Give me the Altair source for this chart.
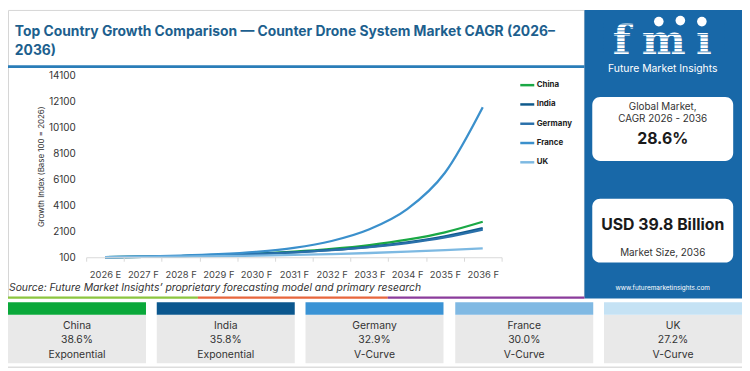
import altair as alt
import pandas as pd

# ---------------- data ----------------
years = ["2026 E", "2027 F", "2028 F", "2029 F", "2030 F", "2031 F",
         "2032 F", "2033 F", "2034 F", "2035 F", "2036 F"]
countries = ["China", "India", "Germany", "France", "UK"]
china = [100, 140, 195, 272, 380, 531, 742, 1036, 1448, 2022, 2833]
india = [100, 137, 188, 257, 352, 483, 661, 906, 1241, 1700, 2334]
germany = [100, 136, 185, 252, 344, 470, 641, 875, 1194, 1630, 2225]
france = [100, 160, 230, 340, 520, 820, 1350, 2250, 3800, 6600, 11640]
uk = [100, 123, 151, 186, 229, 282, 347, 427, 525, 646, 792]
line_colors = ["#1aa845", "#0f5a8c", "#2a70aa", "#3b90cc", "#7db9e2"]
y_ticks = [100, 2100, 4100, 6100, 8100, 10100, 12100, 14100]

card_names = ["China", "India", "Germany", "France", "UK"]
card_cagr = ["38.6%", "35.8%", "32.9%", "30.0%", "27.2%"]
card_type = ["Exponential", "Exponential", "V-Curve", "V-Curve", "V-Curve"]
card_colors = ["#0aa83a", "#0b578e", "#3a93d5", "#80b9e3", "#c5e2f4"]

title_l1 = "Top Country Growth Comparison \u2014 Counter Drone System Market CAGR (2026\u2013"
title_l2 = "2036)"
source_text = "Source: Future Market Insights\u2019 proprietary forecasting model and primary research"

series = {"China": china, "India": india, "Germany": germany, "France": france, "UK": uk}
rows = []
for c in countries:
    for yr, v in zip(years, series[c]):
        rows.append({"year": yr, "value": v, "country": c})
df = pd.DataFrame(rows)

# ---------------- layout helpers ----------------
FONT = "Inter"
SX, SY = 742 / 750, 363 / 371
PL, PT = 79, 66
W, H = 420, 184
PR = 742 - PL - W
PB = 363 - PT - H
ONE = pd.DataFrame({"k": [0]})
PANEL = "#1868a8"


def px(x):
    return x * SX - PL


def py(y):
    return y * SY - PT


def box(x0, y0, x1, y1, color, r=0):
    return alt.Chart(ONE).mark_rect(color=color, cornerRadius=r).encode(
        x=alt.value(px(x0)), x2=alt.value(px(x1)),
        y=alt.value(py(y0)), y2=alt.value(py(y1)))


def frame(x0, y0, x1, y1, color):
    return alt.Chart(ONE).mark_rect(fillOpacity=0, stroke=color, strokeWidth=1).encode(
        x=alt.value(px(x0)), x2=alt.value(px(x1)),
        y=alt.value(py(y0)), y2=alt.value(py(y1)))


def txt(s, x, y, size, color="#333333", weight="normal", align="center",
        font=FONT, style="normal", baseline="middle"):
    return alt.Chart(ONE).mark_text(
        text=s, align=align, baseline=baseline, font=font, fontSize=size,
        fontWeight=weight, fontStyle=style, color=color).encode(
        x=alt.value(px(x)), y=alt.value(py(y)))


layers = []
# backgrounds
layers.append(box(0, 0, 750, 371, "#ffffff"))
layers.append(frame(0.5, 0.5, 589, 297, "#d6d6d6"))
layers.append(box(0, 57, 589, 60, "#2a7db8"))
# right panel
layers.append(box(589, 0, 750, 298, PANEL))
# source strip
layers.append(box(0, 296, 194, 298.5, "#8cc63f"))
layers.append(box(194, 296, 388, 298.5, "#e8663d"))
layers.append(box(388, 296, 589, 298.5, "#8b3c9c"))

# title
layers.append(txt(title_l1, 7, 27, 14, "#1d5f8e", "bold", "left", baseline="alphabetic"))
layers.append(txt(title_l2, 7, 47, 14, "#1d5f8e", "bold", "left", baseline="alphabetic"))
# source
layers.append(txt(source_text, 1, 287, 10.5, "#333333", "normal", "left", style="italic"))

# logo
layers.append(txt("f", 627, 45, 42, "#ffffff", "bold", font="DejaVu Serif", baseline="alphabetic"))
layers.append(txt("m", 670, 45, 42, "#ffffff", "bold", font="DejaVu Serif", baseline="alphabetic"))
layers.append(txt("\u0131", 711, 45, 42, "#ffffff", "bold", font="DejaVu Serif", baseline="alphabetic"))
for i in range(9):
    yy = 14 + i * 3.6
    layers.append(box(608, yy, 732, yy + 0.9, PANEL))
for cx, cy in [(665, 12), (687, 11), (709, 12)]:
    layers.append(alt.Chart(ONE).mark_circle(size=95, color="#ffffff", opacity=1).encode(
        x=alt.value(px(cx)), y=alt.value(py(cy))))
layers.append(txt("Future Market Insights", 669, 61.5, 10.5, "#ffffff"))

# KPI cards
layers.append(box(597, 90, 741, 156, "#ffffff", 8))
layers.append(txt("Global Market,", 669, 100, 10, "#333333"))
layers.append(txt("CAGR 2026 - 2036", 669, 113, 10, "#333333"))
layers.append(txt("28.6%", 669, 133, 16, "#1a1a1a", "bold"))
layers.append(box(597, 195, 741, 261, "#ffffff", 8))
layers.append(txt("USD 39.8 Billion", 669, 222, 16, "#1a1a1a", "bold"))
layers.append(txt("Market Size, 2036", 669, 251, 10, "#333333"))
layers.append(txt("www.futuremarketinsights.com", 669, 287, 6.5, "#ffffff"))

# bottom cards
starts = [0, 152, 304, 457, 609]
for i, s in enumerate(starts):
    e = min(s + 141, 750)
    layers.append(box(s, 315, e, 365, "#e9e9e9"))
    layers.append(box(s, 302, e, 315, card_colors[i]))
    cx = (s + e) / 2
    layers.append(txt(card_names[i], cx, 326.5, 10.5, "#333333"))
    layers.append(txt(card_cagr[i], cx, 341.5, 10.5, "#333333"))
    layers.append(txt(card_type[i], cx, 356.5, 10.5, "#333333"))
layers.append(box(0, 368.5, 750, 370, "#dddddd"))

# ---------------- line chart ----------------
lines = alt.Chart(df).mark_line(strokeWidth=2.3, interpolate="monotone").encode(
    x=alt.X("year:O", sort=years, bandPosition=0.5,
            scale=alt.Scale(type="band", paddingInner=0, paddingOuter=0),
            axis=alt.Axis(title=None, labelAngle=0, labelFont=FONT, labelFontSize=9.5,
                          labelColor="#444444", domainColor="#d9d9d9", tickColor="#d9d9d9",
                          tickSize=4, tickBand="extent", labelPadding=8, grid=False,
                          zindex=1)),
    y=alt.Y("value:Q", scale=alt.Scale(domain=[100, 14100], nice=False, zero=False),
            axis=alt.Axis(values=y_ticks, format="d", title="Growth Index (Base 100 = 2026)",
                          titleFont=FONT, titleFontSize=8, titleFontWeight="normal",
                          titleColor="#333333", titlePadding=3,
                          labelFont=FONT, labelFontSize=10, labelColor="#333333",
                          domain=False, ticks=False, grid=False, labelPadding=11,
                          zindex=1)),
    color=alt.Color("country:N", sort=countries,
                    scale=alt.Scale(domain=countries, range=line_colors),
                    legend=alt.Legend(title=None, orient="none",
                                      legendX=px(522), legendY=py(69),
                                      symbolType="stroke", symbolSize=200,
                                      symbolStrokeWidth=2.5, labelFont=FONT,
                                      labelFontSize=8, labelFontWeight="bold",
                                      labelColor="#222222", labelOffset=1,
                                      rowPadding=5.5, padding=0)),
    order=alt.Order("country:N"),
)

chart = alt.layer(*layers, lines).properties(
    width=W, height=H,
    padding={"left": PL, "top": PT, "right": PR, "bottom": PB},
    autosize=alt.AutoSizeParams(type="none"),
    background="#ffffff",
).configure_view(stroke=None)

chart.save("out.html", embed_options={"renderer": "svg", "actions": False})
